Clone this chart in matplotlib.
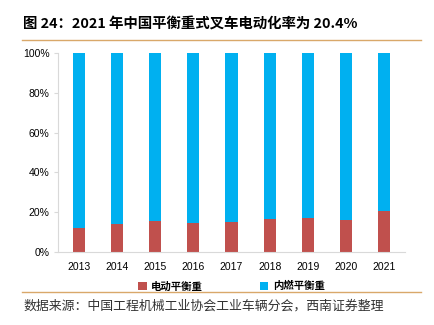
import numpy as np
import matplotlib.pyplot as plt
from matplotlib.lines import Line2D

plt.rcParams['font.family'] = ['Noto Sans CJK SC', 'DejaVu Sans']

# DATA
years = ['2013', '2014', '2015', '2016', '2017', '2018', '2019', '2020', '2021']
electric = [12.2, 14.2, 15.4, 14.7, 15.2, 16.6, 16.9, 16.2, 20.4]
combustion = [100 - v for v in electric]
yticks = [0, 20, 40, 60, 80, 100]
ytick_labels = ['0%', '20%', '40%', '60%', '80%', '100%']

# FIGURE
fig = plt.figure(figsize=(4.35, 3.25), dpi=100)
ax = fig.add_axes([58 / 435, 1 - 252 / 325, 347 / 435, 199 / 325])

x = np.arange(len(years))
ax.bar(x, electric, width=0.32, color='#C0504D', label='电动平衡重')
ax.bar(x, combustion, width=0.32, bottom=electric, color='#00B0F0', label='内燃平衡重')

ax.set_xlim(-0.55, len(years) - 0.45)
ax.set_ylim(0, 100)
ax.set_xticks(x)
ax.set_xticklabels(years, fontsize=7.5, fontfamily='Liberation Sans')
ax.set_yticks(yticks)
ax.set_yticklabels(ytick_labels, fontsize=7.5, fontfamily='Liberation Sans')
ax.tick_params(axis='x', length=0, pad=7)
ax.tick_params(axis='y', length=3, color='#d9d9d9', pad=3)
for s in ['top', 'right']:
    ax.spines[s].set_visible(False)
ax.spines['left'].set_color('#d9d9d9')
ax.spines['bottom'].set_color('#d9d9d9')

ax.legend(loc='upper center', bbox_to_anchor=(0.5, -0.1), ncol=2, frameon=False,
          prop={'size': 7.5, 'weight': 'bold'}, handlelength=0.8, handleheight=0.8,
          columnspacing=5.5, handletextpad=0.4)

# TITLE AND SOURCE
fig.text(23 / 435, 1 - 25 / 325, '图 24：2021 年中国平衡重式叉车电动化率为 20.4%',
         fontsize=10.4, fontweight='bold', va='center', ha='left')
fig.add_artist(Line2D([22 / 435, 421 / 435], [1 - 40 / 325] * 2, color='#D9A86A', lw=1))
fig.add_artist(Line2D([22 / 435, 421 / 435], [1 - 292 / 325] * 2, color='#D9A86A', lw=1))
fig.text(23 / 435, 1 - 306 / 325, '数据来源：中国工程机械工业协会工业车辆分会，西南证券整理',
         fontsize=9.3, style='italic', color='#333333', va='center', ha='left')

fig.savefig('out.png', dpi=100)
